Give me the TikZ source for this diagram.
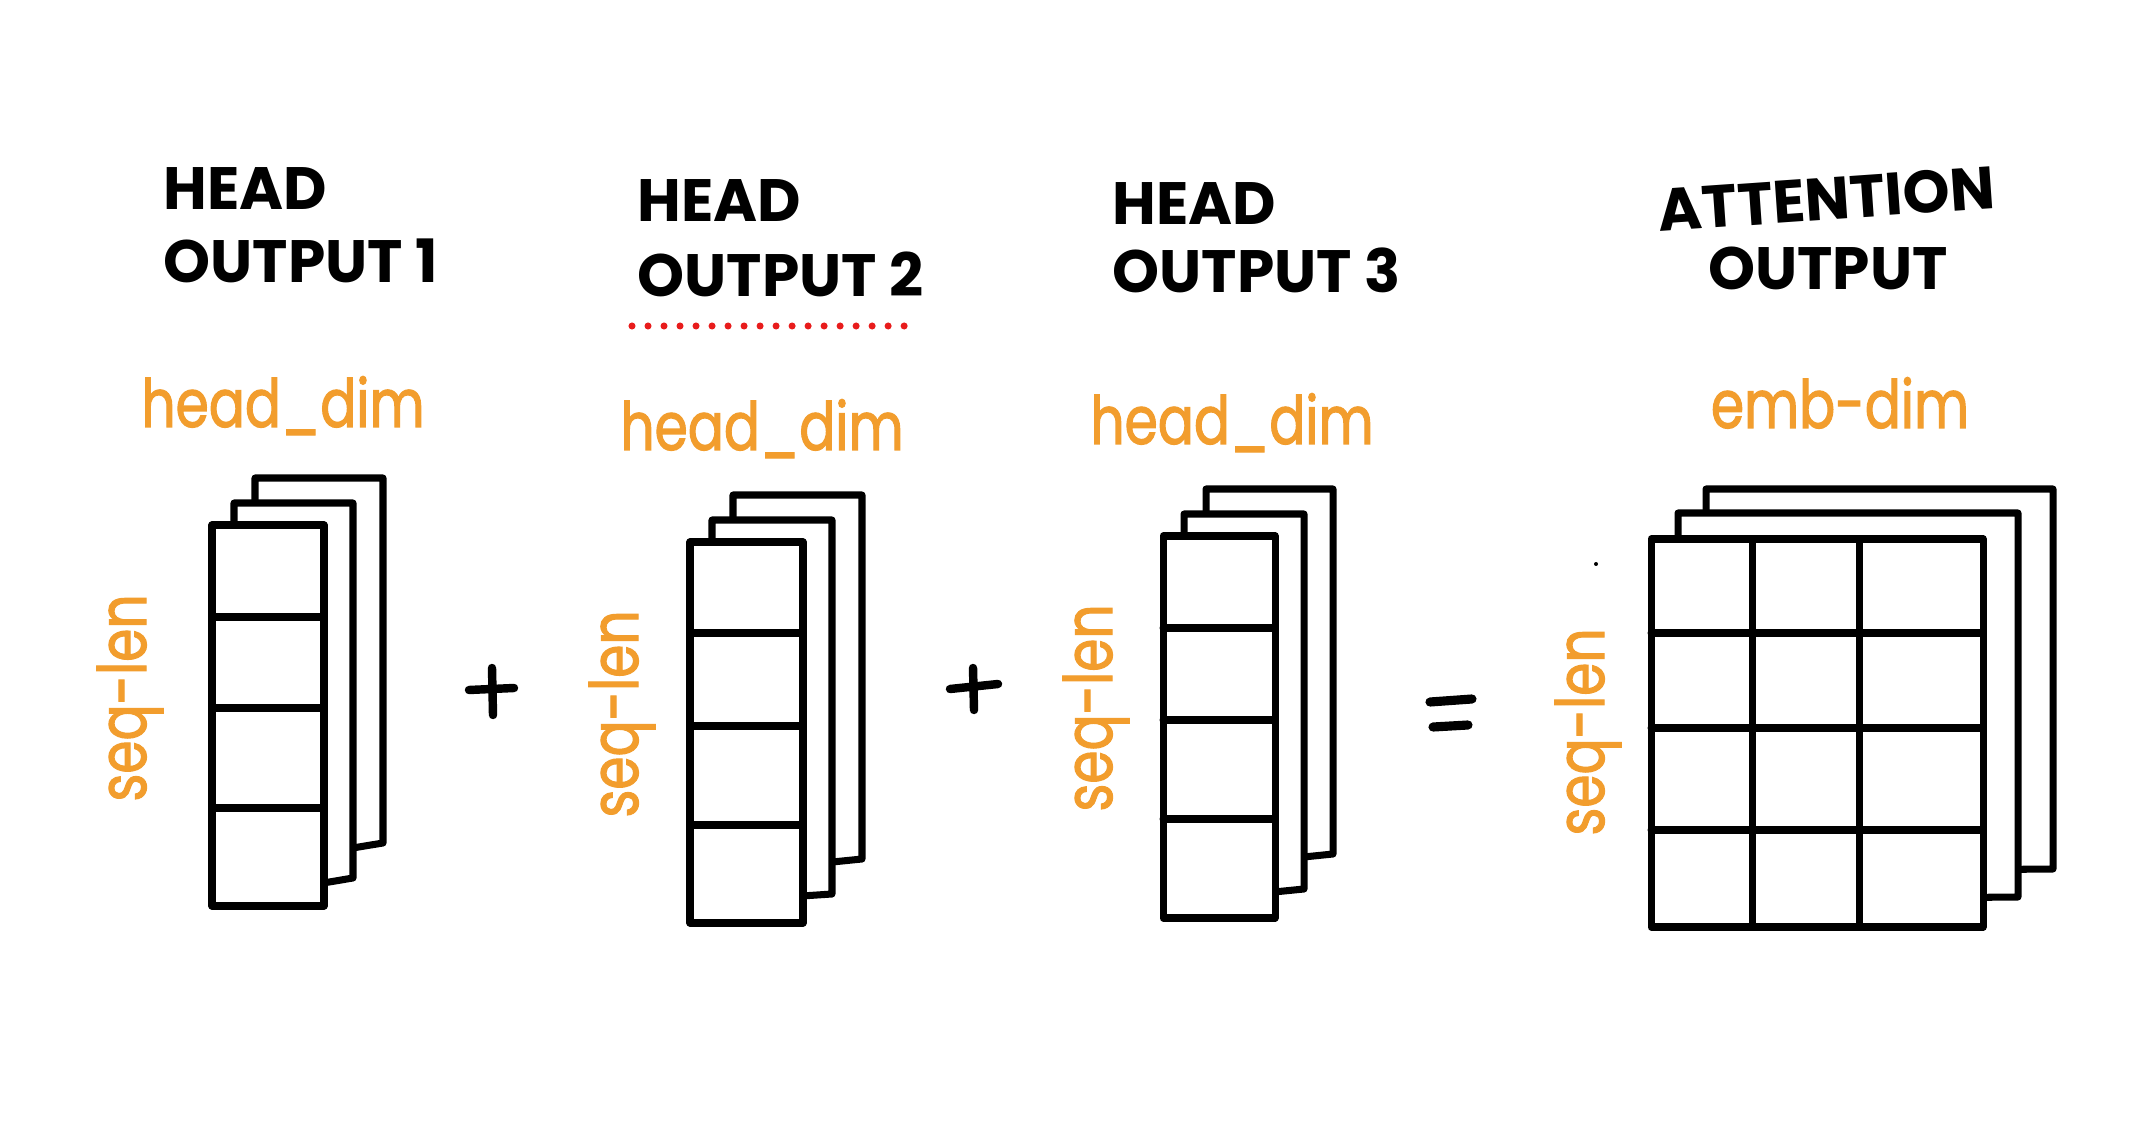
\documentclass[tikz,border=0pt]{standalone}
\usepackage{fontspec}
\setmainfont{Poppins}
\newfontfamily\labelfont{Poppins}[FakeStretch=0.8,FakeBold=1.6]
\definecolor{labelorange}{RGB}{242,157,45}
\definecolor{dotred}{RGB}{232,28,28}
\newcommand\mlayer[5]{\filldraw[layer] (#1,#2) -- (#3,#2) -- (#3,#5) -- (#1,#4) -- cycle;}
\begin{document}
\begin{tikzpicture}[x=0.01cm,y=-0.01cm,
  layer/.style={draw=black,fill=white,line width=2pt,line join=round},
  gridline/.style={draw=black,line width=2pt,line cap=round},
  heading/.style={font=\fontsize{17}{20}\selectfont\bfseries, inner sep=0pt, anchor=base west},
  dimlabel/.style={text=labelorange, font=\labelfont\fontsize{19}{22}\selectfont, inner sep=0pt},
  penstroke/.style={line width=2.4pt, line cap=round}]
\useasboundingbox[fill=white] (0,0) rectangle (2140,1122);

% headings
\node[heading] (h1a) at (163,210) {HEAD};
\node[heading] (h1b) at (163,283) {OUTPUT 1};
\node[heading] (h2a) at (637,222) {HEAD};
\node[heading] (h2b) at (637,297) {OUTPUT 2};
\node[heading] (h3a) at (1112,225) {HEAD};
\node[heading] (h3b) at (1112,293) {OUTPUT 3};
\node[heading, anchor=base, rotate=4] (h4a) at (1828,220) {ATTENTION};
\node[heading, anchor=base] (h4b) at (1828,290) {OUTPUT};

% red dotted underline
\draw[dotred, line width=2pt, line cap=round, dash pattern=on 0pt off 4.552pt] (632,326) -- (905,326);

% dimension labels
\node[dimlabel, anchor=base] (d1) at (283,427) {head\_dim};
\node[dimlabel, anchor=base] (d2) at (762,450) {head\_dim};
\node[dimlabel, anchor=base] (d3) at (1232,444) {head\_dim};
\node[dimlabel, anchor=base] (d4) at (1840,428) {emb-dim};
\node[dimlabel, rotate=90] (s1) at (130,698) {seq-len};
\node[dimlabel, rotate=90] (s2) at (622,714) {seq-len};
\node[dimlabel, rotate=90] (s3) at (1096,708) {seq-len};
\node[dimlabel, rotate=90] (s4) at (1588,732) {seq-len};

% matrix 1
\mlayer{255}{478}{383}{864}{843}
\mlayer{234}{503}{353}{898}{878}
\filldraw[layer] (212,525) rectangle (324,906);
\draw[gridline] (212,617) -- (324,617) (212,708) -- (324,708) (212,808) -- (324,808);

% matrix 2
\mlayer{733}{495}{862}{872}{859}
\mlayer{712}{520}{832}{902}{894}
\filldraw[layer] (690,542) rectangle (803,923);
\draw[gridline] (690,633) -- (803,633) (690,726) -- (803,726) (690,825) -- (803,825);

% matrix 3
\mlayer{1206}{489}{1333}{867}{854}
\mlayer{1184}{514}{1304}{901}{889}
\filldraw[layer] (1163,536) rectangle (1275,918);
\draw[gridline] (1163,628) -- (1275,628) (1163,720) -- (1275,720) (1163,819) -- (1275,819);

% matrix 4
\mlayer{1706}{489}{2053}{872}{869}
\mlayer{1678}{513}{2018}{900}{897}
\filldraw[layer] (1651,539) rectangle (1983,927);
\draw[gridline] (1651,633) -- (1983,633) (1651,728) -- (1983,728) (1651,830) -- (1983,830)
  (1752,539) -- (1752,927) (1859,539) -- (1859,927);
\fill (1596,564) circle (2);

% operators
\draw[penstroke] (469,690) -- (514,688) (492,668) -- (493,715);
\draw[penstroke] (950,689) -- (998,684) (973,668) -- (974,710);
\draw[line width=2.6pt, line cap=round] (1430,702) -- (1472,699) (1433,727) -- (1468,725);
\end{tikzpicture}
\end{document}
